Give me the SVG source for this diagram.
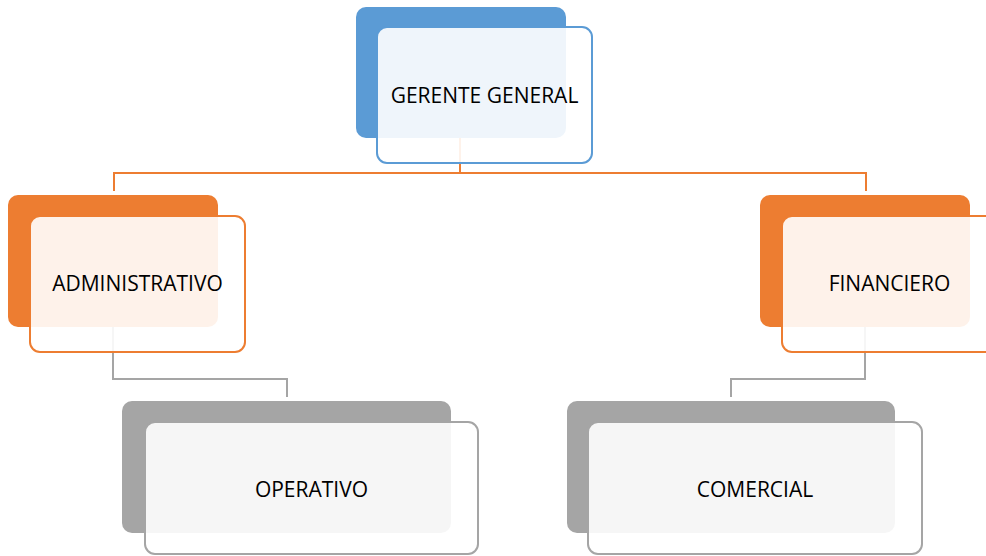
<svg xmlns="http://www.w3.org/2000/svg" width="986" height="556" viewBox="0 0 986 556">
  <style>
    .back { stroke: none; }
    .front { fill: #ffffff; fill-opacity: 0.9; stroke-width: 2; }
    .label { font-family: "Open Sans", "Noto Sans", "Liberation Sans", sans-serif; font-size: 21px; fill: #000000; text-anchor: middle; }
    .blue .back { fill: #5B9BD5; }
    .blue .front { stroke: #5B9BD5; }
    .orange .back { fill: #ED7D31; }
    .orange .front { stroke: #ED7D31; }
    .gray .back { fill: #A5A5A5; }
    .gray .front { stroke: #A5A5A5; }
    .conn { fill: none; stroke-width: 2; }
    .conn-orange { stroke: #ED7D31; }
    .conn-gray { stroke: #A5A5A5; }
  </style>

  <!-- connectors -->
  <g id="connectors">
    <path class="conn conn-orange" d="M460 138 V173 M114 191 V173 H866 V191"/>
    <path class="conn conn-gray" d="M113 327 V379 H287 V397"/>
    <path class="conn conn-gray" d="M865 327 V379 H731 V397"/>
  </g>

  <!-- top level -->
  <g id="gerente-general" class="blue">
    <rect class="back" x="356" y="7" width="210" height="131" rx="10"/>
    <rect class="front" x="377" y="27" width="215" height="136" rx="10"/>
    <text class="label" x="484.5" y="102.5">GERENTE GENERAL</text>
  </g>

  <!-- second level -->
  <g id="administrativo" class="orange">
    <rect class="back" x="8" y="195" width="210" height="132" rx="10"/>
    <rect class="front" x="30" y="216" width="215" height="136" rx="10"/>
    <text class="label" x="137.5" y="290.5">ADMINISTRATIVO</text>
  </g>

  <g id="financiero" class="orange">
    <rect class="back" x="760" y="195" width="210" height="132" rx="10"/>
    <rect class="front" x="782" y="216" width="215" height="136" rx="10"/>
    <text class="label" x="889.5" y="290.5">FINANCIERO</text>
  </g>

  <!-- third level -->
  <g id="operativo" class="gray">
    <rect class="back" x="122" y="401" width="329" height="132" rx="10"/>
    <rect class="front" x="145" y="422" width="333" height="132" rx="10"/>
    <text class="label" x="311.5" y="497">OPERATIVO</text>
  </g>

  <g id="comercial" class="gray">
    <rect class="back" x="567" y="401" width="328" height="132" rx="10"/>
    <rect class="front" x="588" y="422" width="334" height="132" rx="10"/>
    <text class="label" x="755" y="497">COMERCIAL</text>
  </g>
</svg>
